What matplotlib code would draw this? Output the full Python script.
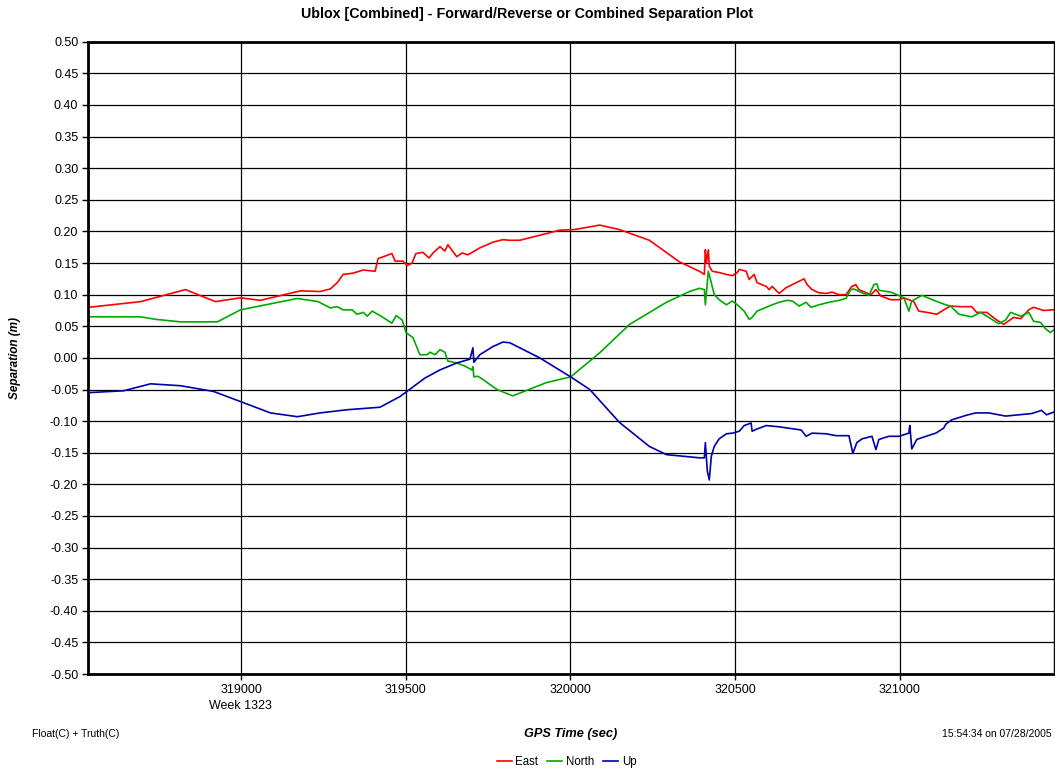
import matplotlib
matplotlib.use("Agg")
import matplotlib.pyplot as plt
from matplotlib.ticker import MultipleLocator, FormatStrFormatter

plt.rcParams['font.family'] = ['Liberation Sans', 'DejaVu Sans']

# GPS time (sec) and separation (m)
east_t = [318537, 318695, 318831, 318922, 318998, 319058, 319180, 319240, 319271, 319292,
          319310, 319340, 319371, 319407, 319416, 319437, 319458, 319468, 319492, 319504,
          319519, 319531, 319552, 319571, 319583, 319604, 319619, 319628, 319655, 319671,
          319689, 319725, 319765, 319795, 319816, 319846, 319968, 320013, 320089, 320149,
          320240, 320331, 320392, 320407, 320410, 320413, 320419, 320422, 320431, 320452,
          320474, 320492, 320507, 320513, 320534, 320543, 320558, 320567, 320595, 320604,
          320613, 320634, 320655, 320686, 320710, 320719, 320734, 320755, 320777, 320795,
          320816, 320837, 320855, 320867, 320876, 320898, 320913, 320928, 320943, 320973,
          320998, 321013, 321028, 321043, 321058, 321083, 321113, 321134, 321155, 321186,
          321219, 321234, 321265, 321292, 321316, 321346, 321368, 321392, 321407, 321437,
          321467]
east_v = [0.080, 0.089, 0.108, 0.089, 0.095, 0.091, 0.106, 0.105, 0.109, 0.119,
          0.132, 0.134, 0.139, 0.137, 0.157, 0.161, 0.165, 0.153, 0.153, 0.146,
          0.150, 0.165, 0.167, 0.158, 0.166, 0.176, 0.169, 0.179, 0.160, 0.166,
          0.163, 0.174, 0.183, 0.187, 0.186, 0.186, 0.202, 0.203, 0.210, 0.203,
          0.186, 0.152, 0.137, 0.132, 0.171, 0.150, 0.171, 0.145, 0.137, 0.135,
          0.132, 0.130, 0.135, 0.140, 0.137, 0.124, 0.132, 0.119, 0.113, 0.108,
          0.113, 0.102, 0.111, 0.119, 0.125, 0.116, 0.108, 0.103, 0.102, 0.104,
          0.100, 0.100, 0.113, 0.116, 0.108, 0.103, 0.100, 0.108, 0.098, 0.092,
          0.092, 0.095, 0.092, 0.089, 0.074, 0.072, 0.069, 0.076, 0.082, 0.081,
          0.081, 0.072, 0.072, 0.061, 0.053, 0.064, 0.062, 0.076, 0.080, 0.075,
          0.076]

north_t = [318537, 318695, 318740, 318816, 318928, 318998, 319171, 319234, 319271, 319292,
           319310, 319337, 319352, 319371, 319383, 319398, 319422, 319458, 319471, 319489,
           319501, 319522, 319543, 319565, 319574, 319589, 319604, 319619, 319628, 319655,
           319680, 319701, 319704, 319707, 319719, 319734, 319777, 319825, 319928, 320001,
           320089, 320180, 320292, 320362, 320392, 320407, 320410, 320419, 320428, 320437,
           320452, 320474, 320492, 320507, 320528, 320543, 320552, 320567, 320595, 320613,
           320634, 320658, 320674, 320695, 320716, 320731, 320755, 320786, 320816, 320837,
           320852, 320861, 320886, 320907, 320922, 320931, 320937, 320973, 320992, 321013,
           321028, 321037, 321068, 321104, 321140, 321155, 321180, 321219, 321246, 321271,
           321301, 321322, 321337, 321368, 321392, 321407, 321428, 321443, 321458, 321467]
north_v = [0.065, 0.065, 0.061, 0.057, 0.057, 0.076, 0.094, 0.089, 0.079, 0.081,
           0.076, 0.076, 0.069, 0.072, 0.066, 0.074, 0.067, 0.055, 0.067, 0.060,
           0.040, 0.032, 0.005, 0.005, 0.009, 0.005, 0.013, 0.009, -0.005, -0.008,
           -0.013, -0.019, -0.014, -0.030, -0.029, -0.034, -0.050, -0.060, -0.039, -0.030,
           0.008, 0.053, 0.088, 0.105, 0.110, 0.108, 0.084, 0.137, 0.119, 0.100,
           0.092, 0.084, 0.090, 0.084, 0.074, 0.061, 0.064, 0.074, 0.080, 0.084,
           0.088, 0.091, 0.090, 0.082, 0.088, 0.080, 0.084, 0.088, 0.091, 0.094,
           0.108, 0.109, 0.103, 0.099, 0.116, 0.117, 0.107, 0.104, 0.100, 0.095,
           0.074, 0.090, 0.099, 0.091, 0.084, 0.082, 0.069, 0.065, 0.072, 0.064,
           0.054, 0.060, 0.072, 0.066, 0.072, 0.058, 0.056, 0.046, 0.040, 0.044]

up_t = [318535, 318643, 318725, 318816, 318916, 318998, 319089, 319171, 319240, 319322,
        319422, 319483, 319558, 319604, 319655, 319695, 319704, 319707, 319725, 319765,
        319795, 319816, 319907, 320001, 320059, 320149, 320240, 320292, 320392, 320407,
        320410, 320416, 320422, 320428, 320437, 320452, 320474, 320492, 320513, 320528,
        320549, 320552, 320564, 320595, 320634, 320674, 320701, 320716, 320734, 320777,
        320807, 320846, 320858, 320870, 320886, 320916, 320928, 320937, 320967, 320998,
        321028, 321031, 321037, 321052, 321080, 321110, 321134, 321140, 321158, 321201,
        321231, 321271, 321301, 321322, 321362, 321401, 321431, 321446, 321467]
up_v = [-0.055, -0.052, -0.041, -0.044, -0.053, -0.069, -0.087, -0.093, -0.087, -0.082,
        -0.078, -0.061, -0.032, -0.019, -0.008, -0.002, 0.016, -0.007, 0.005, 0.018,
        0.025, 0.024, 0.000, -0.030, -0.050, -0.102, -0.140, -0.153, -0.158, -0.158,
        -0.134, -0.179, -0.193, -0.156, -0.140, -0.128, -0.120, -0.119, -0.116, -0.107,
        -0.103, -0.116, -0.113, -0.107, -0.109, -0.112, -0.114, -0.124, -0.119, -0.120,
        -0.123, -0.123, -0.151, -0.134, -0.128, -0.124, -0.145, -0.129, -0.124, -0.124,
        -0.119, -0.107, -0.144, -0.129, -0.124, -0.119, -0.111, -0.105, -0.098, -0.091,
        -0.087, -0.087, -0.090, -0.092, -0.090, -0.088, -0.083, -0.090, -0.086]

fig = plt.figure(figsize=(10.55, 7.73), dpi=100)
ax = fig.add_axes([0.0834, 0.128, 0.916, 0.818])

ax.plot(east_t, east_v, color='#ff0000', lw=1.2, label='East')
ax.plot(north_t, north_v, color='#00aa00', lw=1.2, label='North')
ax.plot(up_t, up_v, color='#0000aa', lw=1.2, label='Up')

ax.set_xlim(318535, 321470)
ax.set_ylim(-0.5, 0.5)
ax.yaxis.set_major_locator(MultipleLocator(0.05))
ax.yaxis.set_major_formatter(FormatStrFormatter('%.2f'))
ax.set_xticks([319000, 319500, 320000, 320500, 321000])
ax.set_xticklabels(['319000', '319500', '320000', '320500', '321000'])
ax.grid(True, color='black', lw=0.9)
ax.set_axisbelow(True)
ax.tick_params(labelsize=9, length=4, width=1, direction='out', pad=3)
for s in ['left', 'bottom', 'top']:
    ax.spines[s].set_linewidth(2)
ax.spines['right'].set_linewidth(1)

fig.text(0.5, 0.982, 'Ublox [Combined] - Forward/Reverse or Combined Separation Plot',
         ha='center', va='center', fontsize=10.3, fontweight='bold')
fig.text(0.014, 0.537, 'Separation (m)', rotation=90, ha='center', va='center',
         fontsize=8.5, fontweight='bold', fontstyle='italic')
fig.text(0.541, 0.050, 'GPS Time (sec)', ha='center', va='center',
         fontsize=9.2, fontweight='bold', fontstyle='italic')
fig.text(0.228, 0.087, 'Week 1323', ha='center', va='center', fontsize=9)
fig.text(0.030, 0.050, 'Float(C) + Truth(C)', ha='left', va='center', fontsize=7.5)
fig.text(0.997, 0.050, '15:54:34 on 07/28/2005', ha='right', va='center', fontsize=7.5)

fig.legend(loc='center', bbox_to_anchor=(0.537, 0.014), ncol=3, frameon=False,
           fontsize=8.3, handlelength=1.3, handletextpad=0.3, columnspacing=0.8)

fig.savefig('out.png', dpi=100)
